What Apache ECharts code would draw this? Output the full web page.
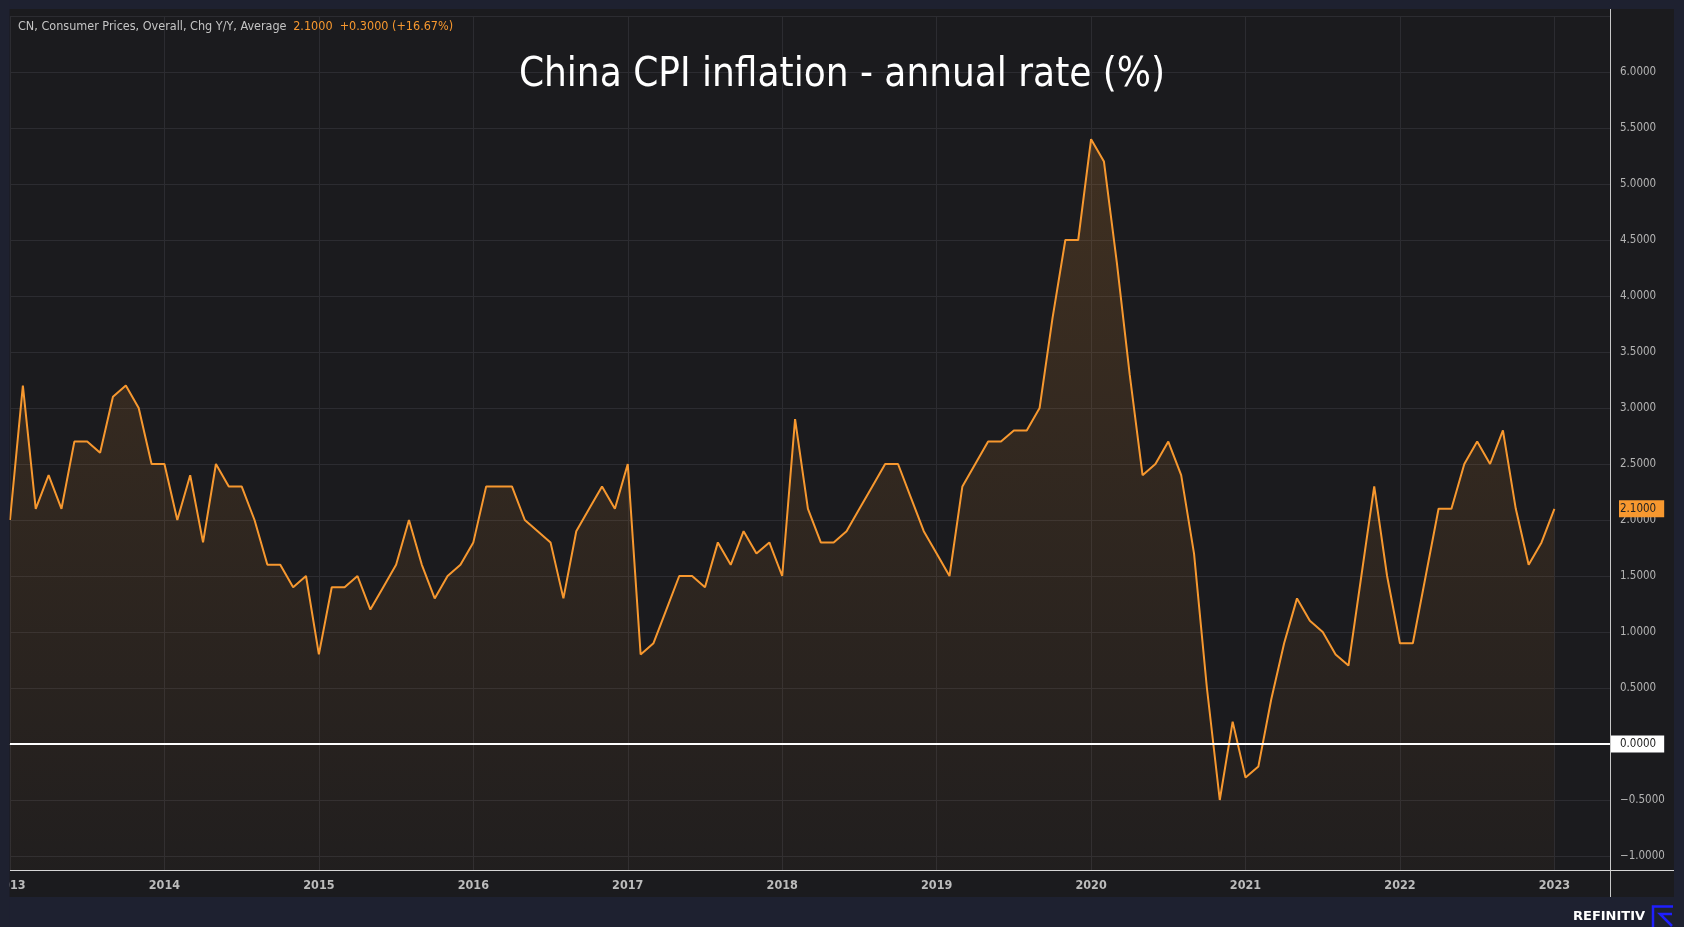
<!DOCTYPE html>
<html>
<head>
<meta charset="utf-8">
<script src="https://cdn.jsdelivr.net/npm/echarts@6/dist/echarts.min.js"></script>
<style>
html,body{margin:0;padding:0;background:#1b1b1e;}
#c{width:1684px;height:927px;}
</style>
</head>
<body>
<div id="c"></div>
<script>
// ---------- DATA ----------
const startYear = 2013;
const cpi2013 = [2.0, 3.2, 2.1, 2.4, 2.1, 2.7, 2.7, 2.6, 3.1, 3.2, 3.0, 2.5];
const cpi2014 = [2.5, 2.0, 2.4, 1.8, 2.5, 2.3, 2.3, 2.0, 1.6, 1.6, 1.4, 1.5];
const cpi2015 = [0.8, 1.4, 1.4, 1.5, 1.2, 1.4, 1.6, 2.0, 1.6, 1.3, 1.5, 1.6];
const cpi2016 = [1.8, 2.3, 2.3, 2.3, 2.0, 1.9, 1.8, 1.3, 1.9, 2.1, 2.3, 2.1];
const cpi2017 = [2.5, 0.8, 0.9, 1.2, 1.5, 1.5, 1.4, 1.8, 1.6, 1.9, 1.7, 1.8];
const cpi2018 = [1.5, 2.9, 2.1, 1.8, 1.8, 1.9, 2.1, 2.3, 2.5, 2.5, 2.2, 1.9];
const cpi2019 = [1.7, 1.5, 2.3, 2.5, 2.7, 2.7, 2.8, 2.8, 3.0, 3.8, 4.5, 4.5];
const cpi2020 = [5.4, 5.2, 4.3, 3.3, 2.4, 2.5, 2.7, 2.4, 1.7, 0.5, -0.5, 0.2];
const cpi2021 = [-0.3, -0.2, 0.4, 0.9, 1.3, 1.1, 1.0, 0.8, 0.7, 1.5, 2.3, 1.5];
const cpi2022 = [0.9, 0.9, 1.5, 2.1, 2.1, 2.5, 2.7, 2.5, 2.8, 2.1, 1.6, 1.8];
const cpi2023 = [2.1];
const cpiValues = [].concat(cpi2013, cpi2014, cpi2015, cpi2016, cpi2017, cpi2018,
                            cpi2019, cpi2020, cpi2021, cpi2022, cpi2023);
// month categories "YYYY-MM"
const months = cpiValues.map((_, i) =>
  (startYear + Math.floor(i / 12)) + '-' + String(i % 12 + 1).padStart(2, '0'));
const xTickYears = [2013, 2014, 2015, 2016, 2017, 2018, 2019, 2020, 2021, 2022, 2023];
const yTickValues = [-1.0, -0.5, 0.0, 0.5, 1.0, 1.5, 2.0, 2.5, 3.0, 3.5, 4.0, 4.5, 5.0, 5.5, 6.0];
const headerLabel = 'CN, Consumer Prices, Overall, Chg Y/Y, Average';
const titleText = 'China CPI inflation - annual rate (%)';

// ---------- AXIS RANGES ----------
const xMin = 2013, xMax = 2023.36;
const yMin = -1.125, yMax = 6.5, yStep = 0.125;

// ---------- DERIVED ----------
function monthToX(m) { const p = m.split('-'); return +p[0] + (+p[1] - 1) / 12; }
const seriesData = months.map((m, i) => [monthToX(m), cpiValues[i]]);
const lastVal = cpiValues[cpiValues.length - 1];
const prevVal = cpiValues[cpiValues.length - 2];
const diff = lastVal - prevVal;
const pct = diff / prevVal * 100;
const fmt4 = v => (v < 0 ? '\u2212' : '') + Math.abs(v).toFixed(4);
const headerValues = lastVal.toFixed(4) + '  ' + (diff >= 0 ? '+' : '\u2212') + Math.abs(diff).toFixed(4) +
  ' (' + (pct >= 0 ? '+' : '\u2212') + Math.abs(pct).toFixed(2) + '%)';

// ---------- STYLE ----------
const GRID = '#2c2c31';
const ORANGE = '#f7982f';
const FRAME = '#1e2130';
const condensed = '"DejaVu Sans Condensed", "DejaVu Sans", sans-serif';

const chart = echarts.init(document.getElementById('c'), null, { renderer: 'canvas' });
const ySplitColors = ['rgba(0,0,0,0)', GRID, 'rgba(0,0,0,0)', 'rgba(0,0,0,0)'];

chart.setOption({
  animation: false,
  backgroundColor: '#1b1b1e',
  title: {
    text: titleText,
    left: 'center',
    top: 51,
    textStyle: { color: '#ffffff', fontSize: 40, fontWeight: 'normal', fontFamily: condensed }
  },
  grid: { left: 10, right: 74, top: 16, bottom: 57, containLabel: false, outerBoundsMode: 'none' },
  xAxis: {
    type: 'value',
    min: xMin, max: xMax, interval: 1,
    axisLine: { show: true, lineStyle: { color: '#d6d6d6', width: 1 } },
    axisTick: { show: false },
    splitLine: { show: true, lineStyle: { color: GRID, width: 1 } },
    axisLabel: {
      color: '#bcbcbc', fontSize: 12.5, fontWeight: 'bold', fontFamily: condensed, margin: 9,
      formatter: v => {
        const r = Math.round(v);
        return (Math.abs(v - r) < 1e-6 && xTickYears.includes(r)) ? String(r) : '';
      }
    }
  },
  yAxis: {
    type: 'value',
    position: 'right',
    min: yMin, max: yMax, interval: yStep,
    axisLine: { show: true, lineStyle: { color: '#c8c8c8', width: 1 } },
    axisTick: { show: false },
    splitLine: { show: true, lineStyle: { color: ySplitColors, width: 1 } },
    axisLabel: {
      color: '#b4b4b4', fontSize: 11.5, fontFamily: condensed, margin: 10,
      formatter: v => yTickValues.some(t => Math.abs(t - v) < 1e-9) ? fmt4(v) : ''
    }
  },
  series: [{
    type: 'line',
    data: seriesData,
    showSymbol: false,
    symbol: 'none',
    lineStyle: { color: ORANGE, width: 2 },
    areaStyle: {
      origin: 'start',
      color: new echarts.graphic.LinearGradient(0, 0, 0, 1, [
        { offset: 0, color: 'rgba(247,152,47,0.24)' },
        { offset: 1, color: 'rgba(247,152,47,0.04)' }
      ])
    },
    markLine: {
      silent: true,
      symbol: ['none', 'none'],
      animation: false,
      data: [
        {
          yAxis: 0,
          lineStyle: { color: '#ffffff', width: 2, type: 'solid' },
          label: {
            show: true, position: 'end', distance: 0, formatter: fmt4(0),
            backgroundColor: '#ffffff', color: '#222222', fontSize: 11.5, fontFamily: condensed,
            padding: [3, 8, 2, 10]
          }
        },
        {
          yAxis: lastVal,
          lineStyle: { color: 'rgba(0,0,0,0)', width: 0 },
          label: {
            show: true, position: 'end', distance: 9, formatter: fmt4(lastVal),
            backgroundColor: ORANGE, color: '#222222', fontSize: 11.5, fontFamily: condensed,
            padding: [3, 8, 2, 1]
          }
        }
      ]
    }
  }],
  graphic: [
    // outer frame
    { type: 'rect', z: 100, shape: { x: 0, y: 0, width: 1684, height: 9 }, style: { fill: FRAME } },
    { type: 'rect', z: 100, shape: { x: 0, y: 897, width: 1684, height: 30 }, style: { fill: FRAME } },
    { type: 'rect', z: 100, shape: { x: 0, y: 0, width: 9.5, height: 927 }, style: { fill: FRAME } },
    { type: 'rect', z: 100, shape: { x: 1674, y: 0, width: 10, height: 927 }, style: { fill: FRAME } },
    // axis line extensions
    { type: 'line', z: 90, shape: { x1: 1610.5, y1: 9, x2: 1610.5, y2: 897 }, style: { stroke: '#c8c8c8', lineWidth: 1 } },
    { type: 'line', z: 90, shape: { x1: 10, y1: 870.5, x2: 1674, y2: 870.5 }, style: { stroke: '#d6d6d6', lineWidth: 1 } },
    // header
    {
      type: 'text', z: 110, left: 18, top: 20,
      style: {
        text: '{a|' + headerLabel + '}  {b|' + headerValues + '}',
        rich: {
          a: { fill: '#c4c4c4', font: '12.5px ' + condensed },
          b: { fill: ORANGE, font: '12.5px ' + condensed }
        }
      }
    },
    // logo
    {
      type: 'text', z: 110, left: 1573, top: 910,
      style: { text: 'REFINITIV', fill: '#ffffff', font: 'bold 13px "DejaVu Sans", sans-serif' }
    },
    {
      type: 'polyline', z: 110,
      shape: { points: [[1653, 927], [1653, 906.5], [1673, 906.5]] },
      style: { stroke: '#1f1fff', lineWidth: 2.5, fill: null }
    },
    {
      type: 'polyline', z: 110,
      shape: { points: [[1672, 914], [1660, 914], [1672, 926]] },
      style: { stroke: '#1f1fff', lineWidth: 2.5, fill: null }
    }
  ]
});
</script>
</body>
</html>
